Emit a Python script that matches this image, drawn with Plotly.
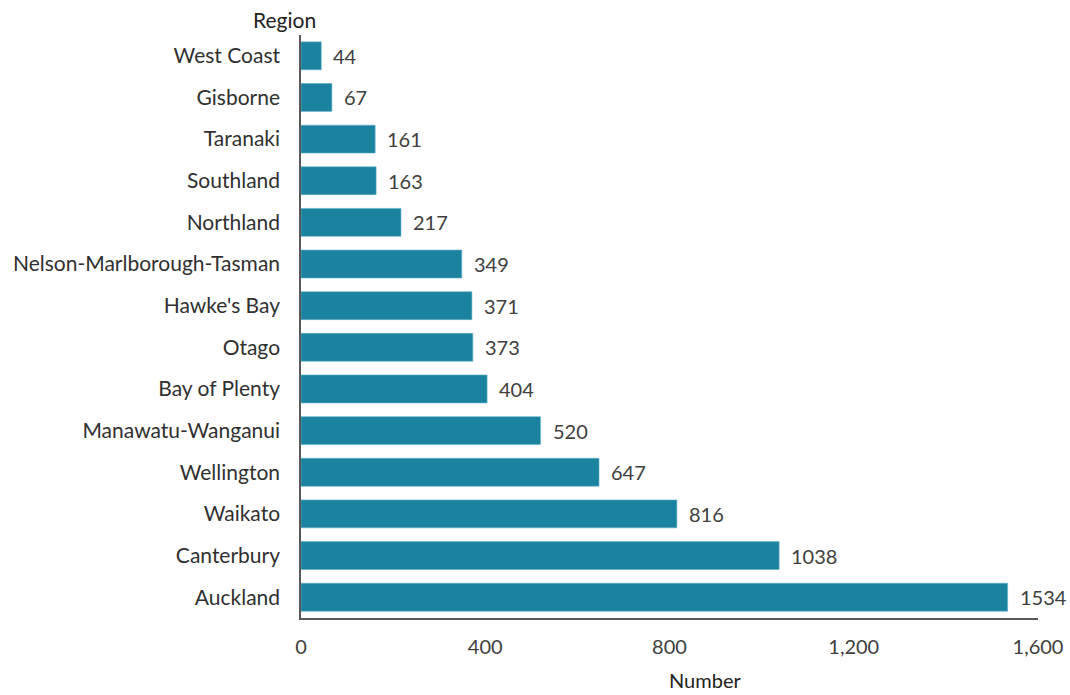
import plotly.graph_objects as go

regions = ["West Coast", "Gisborne", "Taranaki", "Southland", "Northland",
           "Nelson-Marlborough-Tasman", "Hawke's Bay", "Otago", "Bay of Plenty",
           "Manawatu-Wanganui", "Wellington", "Waikato", "Canterbury", "Auckland"]
values = [44, 67, 161, 163, 217, 349, 371, 373, 404, 520, 647, 816, 1038, 1534]
tick_vals = [0, 400, 800, 1200, 1600]
tick_text = ["0", "400", "800", "1,200", "1,600"]

FONT = "Lato, Open Sans, sans-serif"
GREY = "#404040"

fig = go.Figure(go.Bar(
    x=values, y=regions, orientation="h",
    marker=dict(color="#1b83a0", line=dict(color="#5fb0c8", width=0.6)),
    width=0.67,
))

for r, v in zip(regions, values):
    fig.add_annotation(x=v, y=r, text=str(v), showarrow=False, xanchor="left",
                       xshift=10, font=dict(family=FONT, size=20, color=GREY))

fig.add_annotation(x=-0.022, y=1.0, xref="paper", yref="paper", text="Region",
                   showarrow=False, xanchor="center", yanchor="bottom", yshift=1,
                   font=dict(family=FONT, size=21, color="#222222"))

fig.add_annotation(x=0.548, y=0, xref="paper", yref="paper", text="Number",
                   showarrow=False, xanchor="center", yanchor="middle", yshift=-62,
                   font=dict(family=FONT, size=20, color="#222222"))

fig.update_layout(
    width=1070, height=695,
    margin=dict(l=301, r=32, t=35, b=77),
    plot_bgcolor="white", paper_bgcolor="white",
    showlegend=False,
    font=dict(family=FONT, size=19, color=GREY),
)
fig.update_xaxes(range=[0, 1600], tickvals=tick_vals, ticktext=tick_text,
                 showgrid=False, zeroline=False, showline=True, linecolor="#595959",
                 linewidth=1.5, ticks="", tickfont=dict(size=20, color=GREY),
                 automargin=False, ticklabelstandoff=10)
fig.update_yaxes(categoryorder="array", categoryarray=regions, autorange="reversed",
                 showgrid=False, showline=True, linecolor="#595959", linewidth=1.5,
                 ticks="", ticklabelstandoff=15, automargin=False,
                 tickfont=dict(size=21, color="#303030"))

fig.write_html("out.html", config={"displayModeBar": False},
               post_script="document.body.style.margin='0px';")
